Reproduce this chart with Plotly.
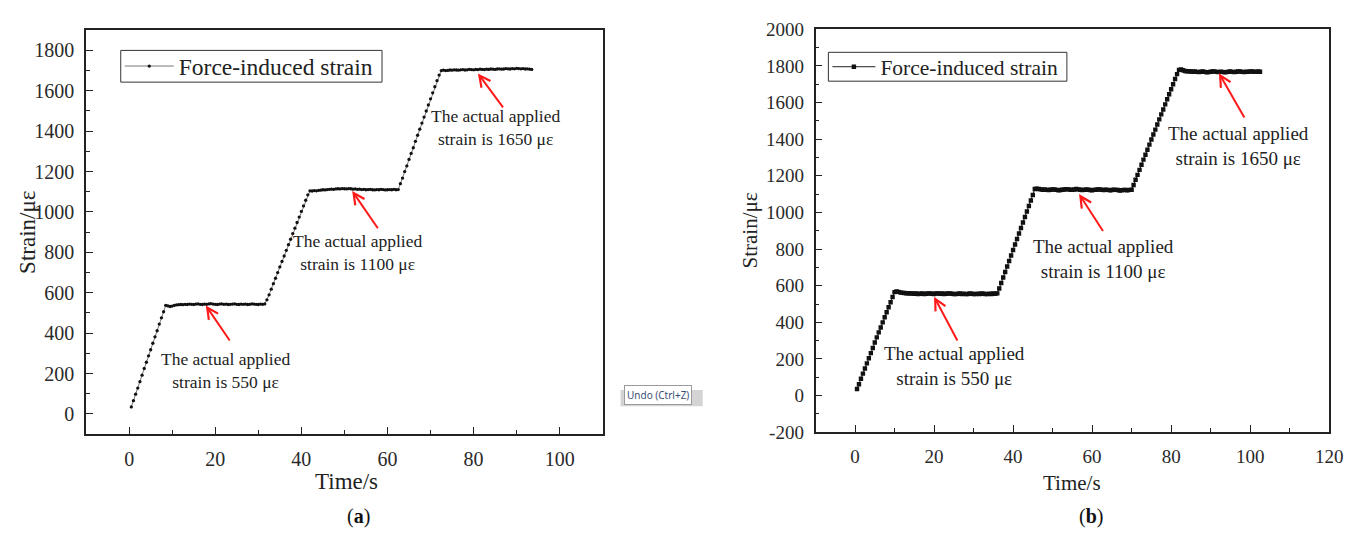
import plotly.graph_objects as go

# ---------------- data: panel (a) ----------------
time_a = [
    0.5, 1.0, 1.5, 2.0, 2.5, 3.0, 3.5, 4.0, 4.5, 5.0,
    5.5, 6.0, 6.5, 7.0, 7.5, 8.0, 8.5, 9.0, 9.5, 10.0,
    10.5, 11.0, 11.5, 12.0, 12.5, 13.0, 13.5, 14.0, 14.5, 15.0,
    15.5, 16.0, 16.5, 17.0, 17.5, 18.0, 18.5, 19.0, 19.5, 20.0,
    20.5, 21.0, 21.5, 22.0, 22.5, 23.0, 23.5, 24.0, 24.5, 25.0,
    25.5, 26.0, 26.5, 27.0, 27.5, 28.0, 28.5, 29.0, 29.5, 30.0,
    30.5, 31.0, 31.5, 32.0, 32.5, 33.0, 33.5, 34.0, 34.5, 35.0,
    35.5, 36.0, 36.5, 37.0, 37.5, 38.0, 38.5, 39.0, 39.5, 40.0,
    40.5, 41.0, 41.5, 42.0, 42.5, 43.0, 43.5, 44.0, 44.5, 45.0,
    45.5, 46.0, 46.5, 47.0, 47.5, 48.0, 48.5, 49.0, 49.5, 50.0,
    50.5, 51.0, 51.5, 52.0, 52.5, 53.0, 53.5, 54.0, 54.5, 55.0,
    55.5, 56.0, 56.5, 57.0, 57.5, 58.0, 58.5, 59.0, 59.5, 60.0,
    60.5, 61.0, 61.5, 62.0, 62.5, 63.0, 63.5, 64.0, 64.5, 65.0,
    65.5, 66.0, 66.5, 67.0, 67.5, 68.0, 68.5, 69.0, 69.5, 70.0,
    70.5, 71.0, 71.5, 72.0, 72.5, 73.0, 73.5, 74.0, 74.5, 75.0,
    75.5, 76.0, 76.5, 77.0, 77.5, 78.0, 78.5, 79.0, 79.5, 80.0,
    80.5, 81.0, 81.5, 82.0, 82.5, 83.0, 83.5, 84.0, 84.5, 85.0,
    85.5, 86.0, 86.5, 87.0, 87.5, 88.0, 88.5, 89.0, 89.5, 90.0,
    90.5, 91.0, 91.5, 92.0, 92.5, 93.0, 93.5,
]
strain_a_ramp1 = [35, 66, 98, 128, 160, 192, 225, 256, 288, 318, 350, 382, 412, 445, 476, 506, 538]
strain_a_hold1 = [535, 532, 534, 538, 540, 541, 542, 541, 543, 542,
                  544, 543, 542, 544, 545, 543, 542, 544, 543, 545,
                  546, 544, 543, 542, 544, 545, 543, 544, 542, 543,
                  544, 545, 543, 542, 544, 543, 544, 542, 543, 545,
                  544, 543, 542, 544, 543, 545]
strain_a_ramp2 = [565, 590, 618, 645, 672, 700, 728, 755, 782, 810,
                  838, 865, 893, 920, 948, 975, 1003, 1030, 1058, 1085, 1105]
strain_a_hold2 = [1104, 1106, 1105, 1107, 1108, 1110, 1109, 1111, 1112, 1113,
                  1112, 1114, 1115, 1114, 1116, 1115, 1114, 1116, 1115, 1113,
                  1114, 1112, 1113, 1111, 1112, 1110, 1111, 1112, 1110, 1109,
                  1111, 1110, 1112, 1111, 1109, 1110, 1111, 1110, 1112, 1110, 1111]
strain_a_ramp3 = [1140, 1168, 1200, 1228, 1260, 1290, 1318, 1350, 1380, 1410,
                  1440, 1470, 1500, 1530, 1560, 1590, 1620, 1650, 1678, 1700]
strain_a_hold3 = [1702, 1700, 1701, 1703, 1702, 1704, 1703, 1702, 1704, 1705,
                  1703, 1704, 1706, 1705, 1704, 1706, 1705, 1707, 1706, 1705,
                  1707, 1706, 1708, 1707, 1706, 1708, 1709, 1707, 1708, 1710,
                  1709, 1708, 1710, 1709, 1711, 1710, 1709, 1710, 1708, 1709,
                  1707, 1706]

# ---------------- data: panel (b) ----------------
time_b = [
    0.5, 1.0, 1.5, 2.0, 2.5, 3.0, 3.5, 4.0, 4.5, 5.0,
    5.5, 6.0, 6.5, 7.0, 7.5, 8.0, 8.5, 9.0, 9.5, 10.0,
    10.5, 11.0, 11.5, 12.0, 12.5, 13.0, 13.5, 14.0, 14.5, 15.0,
    15.5, 16.0, 16.5, 17.0, 17.5, 18.0, 18.5, 19.0, 19.5, 20.0,
    20.5, 21.0, 21.5, 22.0, 22.5, 23.0, 23.5, 24.0, 24.5, 25.0,
    25.5, 26.0, 26.5, 27.0, 27.5, 28.0, 28.5, 29.0, 29.5, 30.0,
    30.5, 31.0, 31.5, 32.0, 32.5, 33.0, 33.5, 34.0, 34.5, 35.0,
    35.5, 36.0, 36.5, 37.0, 37.5, 38.0, 38.5, 39.0, 39.5, 40.0,
    40.5, 41.0, 41.5, 42.0, 42.5, 43.0, 43.5, 44.0, 44.5, 45.0,
    45.5, 46.0, 46.5, 47.0, 47.5, 48.0, 48.5, 49.0, 49.5, 50.0,
    50.5, 51.0, 51.5, 52.0, 52.5, 53.0, 53.5, 54.0, 54.5, 55.0,
    55.5, 56.0, 56.5, 57.0, 57.5, 58.0, 58.5, 59.0, 59.5, 60.0,
    60.5, 61.0, 61.5, 62.0, 62.5, 63.0, 63.5, 64.0, 64.5, 65.0,
    65.5, 66.0, 66.5, 67.0, 67.5, 68.0, 68.5, 69.0, 69.5, 70.0,
    70.5, 71.0, 71.5, 72.0, 72.5, 73.0, 73.5, 74.0, 74.5, 75.0,
    75.5, 76.0, 76.5, 77.0, 77.5, 78.0, 78.5, 79.0, 79.5, 80.0,
    80.5, 81.0, 81.5, 82.0, 82.5, 83.0, 83.5, 84.0, 84.5, 85.0,
    85.5, 86.0, 86.5, 87.0, 87.5, 88.0, 88.5, 89.0, 89.5, 90.0,
    90.5, 91.0, 91.5, 92.0, 92.5, 93.0, 93.5, 94.0, 94.5, 95.0,
    95.5, 96.0, 96.5, 97.0, 97.5, 98.0, 98.5, 99.0, 99.5, 100.0,
    100.5, 101.0, 101.5, 102.0, 102.5,
]
strain_b_ramp1 = [36, 62, 92, 120, 148, 176, 204, 232, 260, 290,
                  318, 345, 372, 400, 428, 455, 482, 510, 538, 565]
strain_b_hold1 = [568, 566, 563, 561, 560, 558, 559, 557, 558, 556,
                  557, 555, 556, 557, 555, 556, 558, 557, 556, 555,
                  557, 558, 556, 557, 555, 556, 558, 557, 556, 555,
                  554, 556, 557, 555, 556, 554, 555, 557, 556, 555,
                  554, 556, 555, 557, 556, 555, 554, 556, 555, 557,
                  556, 558]
strain_b_ramp2 = [585, 615, 645, 675, 705, 735, 765, 795, 825, 855,
                  885, 915, 945, 975, 1005, 1035, 1065, 1095, 1128]
strain_b_hold2 = [1130, 1128, 1126, 1124, 1125, 1123, 1122, 1124, 1126, 1125,
                  1123, 1121, 1122, 1124, 1125, 1127, 1126, 1124, 1123, 1125,
                  1128, 1126, 1124, 1122, 1123, 1125, 1124, 1122, 1121, 1123,
                  1124, 1126, 1125, 1123, 1122, 1124, 1123, 1121, 1122, 1124,
                  1123, 1122, 1120, 1121, 1123, 1122, 1121, 1123, 1124]
strain_b_ramp3 = [1150, 1178, 1205, 1232, 1260, 1288, 1315, 1342, 1370, 1398,
                  1425, 1452, 1480, 1508, 1535, 1562, 1590, 1618, 1645, 1672,
                  1700, 1728, 1755, 1778]
strain_b_hold3 = [1780, 1776, 1772, 1770, 1771, 1769, 1768, 1770, 1767, 1766,
                  1768, 1769, 1767, 1765, 1766, 1768, 1770, 1769, 1767, 1766,
                  1768, 1767, 1765, 1766, 1768, 1769, 1767, 1766, 1768, 1770,
                  1769, 1767, 1766, 1768, 1767, 1769, 1770, 1768, 1767, 1769,
                  1768]

strain_a = strain_a_ramp1 + strain_a_hold1 + strain_a_ramp2 + strain_a_hold2 + strain_a_ramp3 + strain_a_hold3
strain_b = strain_b_ramp1 + strain_b_hold1 + strain_b_ramp2 + strain_b_hold2 + strain_b_ramp3 + strain_b_hold3
assert len(time_a) == len(strain_a), (len(time_a), len(strain_a))
assert len(time_b) == len(strain_b), (len(time_b), len(strain_b))

# tick labels (hyphen-minus as in the reference)
yticks_a = [0, 200, 400, 600, 800, 1000, 1200, 1400, 1600, 1800]
yticks_b = [-200, 0, 200, 400, 600, 800, 1000, 1200, 1400, 1600, 1800, 2000]
yticktext_b = ["-200", "0", "200", "400", "600", "800", "1000", "1200", "1400", "1600", "1800", "2000"]

# annotation content: (label, arrow tip x, tip y, arrow tail x, tail y, text x, text y)
notes_a = [
    ("The actual applied<br>strain is 550 με", 17.8, 537, 23.6, 356, 22.4, 214),
    ("The actual applied<br>strain is 1100 με", 51.8, 1104, 58.0, 912, 53.0, 800),
    ("The actual applied<br>strain is 1650 με", 81.0, 1686, 87.1, 1510, 85.0, 1420),
]
notes_b = [
    ("The actual applied<br>strain is 550 με", 20.0, 540, 26.1, 293, 25.2, 163),
    ("The actual applied<br>strain is 1100 με", 56.7, 1100, 63.0, 890, 63.0, 745),
    ("The actual applied<br>strain is 1650 με", 92.1, 1760, 98.75, 1510, 97.1, 1361),
]
legend_label = "Force-induced strain"

SERIF = "Liberation Serif"
W, H = 1360, 550

def px_x(p):
    return p / W

def px_y(p):
    return 1 - p / H

fig = go.Figure()
fig.add_trace(go.Scatter(
    x=time_a, y=strain_a, mode="lines+markers", name=legend_label,
    line=dict(color="#555555", width=0.8),
    marker=dict(symbol="circle", size=3.3, color="#111111"),
    xaxis="x", yaxis="y", legend="legend",
))
fig.add_trace(go.Scatter(
    x=time_b, y=strain_b, mode="lines+markers", name=legend_label,
    line=dict(color="#222222", width=1),
    marker=dict(symbol="square", size=4.4, color="#111111"),
    xaxis="x2", yaxis="y2", legend="legend2",
))

def axis_style(size):
    return dict(
        showgrid=False, zeroline=False, showline=True, linecolor="#222222", linewidth=1.6,
        mirror=True, ticks="inside", ticklen=7, tickwidth=1.4, tickcolor="#222222",
        tickfont=dict(family=SERIF, size=size, color="#2a2a2a"), ticklabelstandoff=6,
    )

fig.update_layout(
    width=W, height=H,
    margin=dict(l=0, r=0, t=0, b=0),
    paper_bgcolor="white", plot_bgcolor="white",
    font=dict(family=SERIF),
    xaxis=dict(domain=[px_x(87), px_x(609)], range=[-10, 110], tick0=0, dtick=20,
               minor=dict(ticks="inside", ticklen=4, dtick=10, tick0=0, tickcolor="#222222"),
               anchor="y", **axis_style(20)),
    yaxis=dict(domain=[px_y(441), px_y(21)], range=[-100, 1900], tickvals=yticks_a,
               minor=dict(ticks="inside", ticklen=4, dtick=100, tick0=0, tickcolor="#222222"),
               anchor="x", **axis_style(20)),
    xaxis2=dict(domain=[px_x(824), px_x(1343)], range=[-10, 120], tick0=0, dtick=20,
                minor=dict(ticks="inside", ticklen=4, dtick=10, tick0=0, tickcolor="#222222"),
                anchor="y2", **axis_style(19)),
    yaxis2=dict(domain=[px_y(439), px_y(20)], range=[-200, 2000],
                tickvals=yticks_b, ticktext=yticktext_b,
                minor=dict(ticks="inside", ticklen=4, dtick=100, tick0=0, tickcolor="#222222"),
                anchor="x2", **axis_style(19)),
    # legends are borderless; their frames are drawn as rectangles below so that
    # the frame can be as tight as the reference's
    legend=dict(x=px_x(121), y=px_y(58.5), xanchor="left", yanchor="middle",
                bgcolor="rgba(0,0,0,0)", borderwidth=0,
                font=dict(family=SERIF, size=23.5, color="#222222"),
                itemwidth=49, tracegroupgap=0),
    legend2=dict(x=px_x(836), y=px_y(59), xanchor="left", yanchor="middle",
                 bgcolor="rgba(0,0,0,0)", borderwidth=0,
                 font=dict(family=SERIF, size=21.5, color="#222222"),
                 itemwidth=43, tracegroupgap=0),
    showlegend=True,
)

# legend frames
fig.add_shape(type="rect", xref="paper", yref="paper",
              x0=px_x(122), x1=px_x(386), y0=px_y(75), y1=px_y(42),
              line=dict(color="#333333", width=1), fillcolor="white", layer="below")
fig.add_shape(type="rect", xref="paper", yref="paper",
              x0=px_x(837), x1=px_x(1078), y0=px_y(74), y1=px_y(44),
              line=dict(color="#333333", width=1), fillcolor="white", layer="below")

annotations = []
for notes, xr, yr, fs in ((notes_a, "x", "y", 17.5), (notes_b, "x2", "y2", 19)):
    for label, tx, ty, ax, ay, lx, ly in notes:
        annotations.append(dict(
            x=tx, y=ty, xref=xr, yref=yr, ax=ax, ay=ay, axref=xr, ayref=yr,
            text="", showarrow=True, arrowhead=5, arrowsize=1.1, arrowwidth=2,
            arrowcolor="#ff1a1a", standoff=0, startstandoff=0,
        ))
        annotations.append(dict(
            x=lx, y=ly, xref=xr, yref=yr, text=label, showarrow=False,
            xanchor="center", yanchor="middle", align="center",
            font=dict(family=SERIF, size=fs, color="#222222"),
        ))

def paper_text(text, x, y, size, angle=0, color="#222222", **kw):
    return dict(x=px_x(x), y=px_y(y), xref="paper", yref="paper", text=text,
                textangle=angle, showarrow=False, xanchor="center", yanchor="middle",
                font=dict(family=kw.pop("family", SERIF), size=size, color=color), **kw)

# axis titles and panel captions
annotations += [
    paper_text("Strain/με", 27, 231, 23, angle=-90),
    paper_text("Time/s", 350, 490, 23),
    paper_text("Strain/με", 758, 229, 21, angle=-90),
    paper_text("Time/s", 1083, 492, 21),
    paper_text("(<b>a</b>)", 362, 527, 20, color="#111111"),
    paper_text("(<b>b</b>)", 1102, 527, 20, color="#111111"),
    paper_text("Undo (Ctrl+Z)", 665, 400, 10, color="#3a4f74",
               family="Noto Sans", bgcolor="white", bordercolor="#9a9a9a",
               borderwidth=1, borderpad=2),
]
fig.update_layout(annotations=annotations)

fig.add_shape(type="rect", xref="paper", yref="paper",
              x0=px_x(627), x1=px_x(710), y0=px_y(412), y1=px_y(395),
              fillcolor="#d4d4d4", line=dict(width=0), layer="below")

fig.write_html("out.html")
